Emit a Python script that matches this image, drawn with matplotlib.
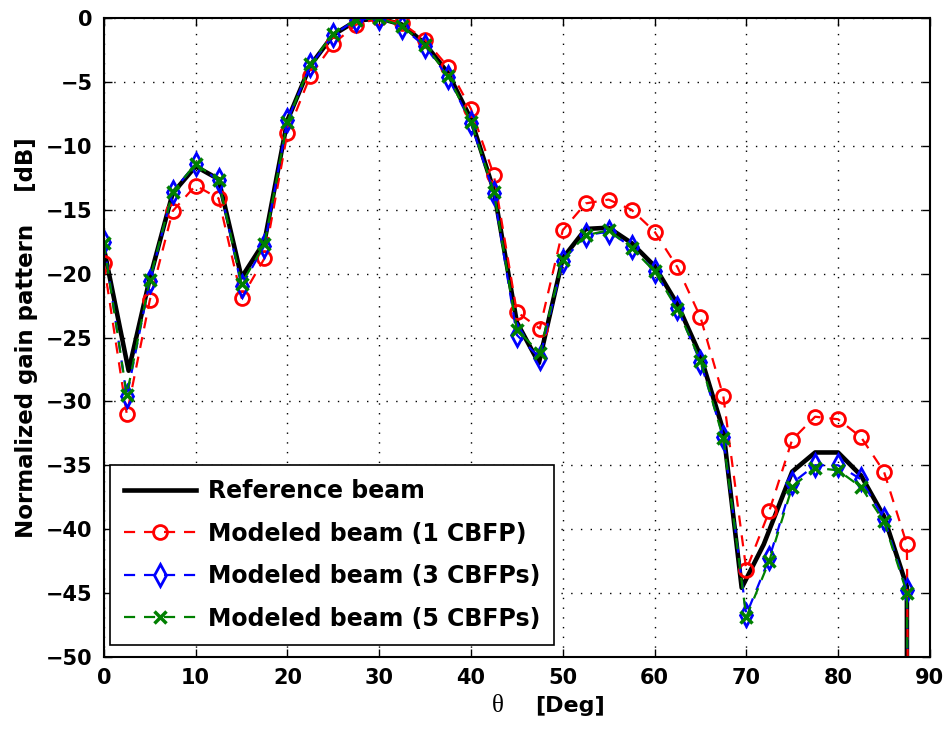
import numpy as np
import matplotlib
matplotlib.use("Agg")
import matplotlib.pyplot as plt

# Angulos de muestreo (grados)
theta = [0, 2.5, 5, 7.5, 10, 12.5, 15, 17.5, 20, 22.5, 25, 27.5, 30, 32.5, 35,
         37.5, 40, 42.5, 45, 47.5, 50, 52.5, 55, 57.5, 60, 62.5, 65, 67.5, 70,
         72.5, 75, 77.5, 80, 82.5, 85, 87.5, 90]

# Haz de referencia (muestreo propio)
theta_ref = [0, 2.7, 5, 7.5, 10, 12.5, 15, 17.5, 20, 22.5, 25, 27.5, 30, 32.5,
             35, 37.5, 40, 42.5, 45, 47.4, 50, 52.5, 55, 57.5, 60, 62.5, 65,
             67.5, 69.5, 71.9, 75, 77.5, 80, 82.5, 85, 87.5, 87.6]
gain_ref = [-18.0, -27.6, -20.4, -13.7, -11.6, -12.6, -20.3, -17.5, -8.0, -3.7,
            -1.3, -0.2, 0.0, -0.5, -2.0, -4.3, -7.9, -13.5, -23.8, -27.0, -18.8,
            -16.5, -16.4, -17.6, -19.4, -22.4, -26.4, -32.3, -44.6, -41.2, -35.5,
            -34.0, -34.0, -35.8, -39.0, -44.5, -300.0]

# Haces modelados
gain_1 = [-19.2, -31.0, -22.1, -15.1, -13.1, -14.1, -21.9, -18.8, -9.0, -4.5,
          -2.0, -0.5, 0.0, -0.4, -1.7, -3.8, -7.1, -12.3, -23.0, -24.3, -16.6,
          -14.5, -14.2, -15.0, -16.7, -19.5, -23.4, -29.6, -43.2, -38.6, -33.0,
          -31.2, -31.4, -32.8, -35.5, -41.2, -300.0]
gain_3 = [-17.5, -29.6, -20.6, -13.6, -11.4, -12.7, -21.0, -17.8, -8.0, -3.7,
          -1.3, -0.1, 0.0, -0.7, -2.2, -4.6, -8.2, -13.7, -24.8, -26.6, -19.0,
          -17.0, -16.7, -17.9, -19.8, -22.7, -26.9, -32.8, -46.7, -42.3, -36.4,
          -35.0, -35.0, -36.1, -39.2, -44.8, -300.0]
gain_5 = [-17.6, -29.5, -20.5, -13.6, -11.4, -12.7, -20.8, -17.7, -8.1, -3.6,
          -1.2, -0.1, 0.0, -0.6, -2.1, -4.5, -8.1, -13.6, -24.4, -26.2, -18.9,
          -17.0, -16.6, -18.0, -19.8, -22.8, -26.8, -32.9, -46.9, -42.5, -36.7,
          -35.2, -35.4, -36.7, -39.4, -45.0, -300.0]

plt.rcParams["font.family"] = ["DejaVu Sans"]
plt.rcParams["font.weight"] = "bold"

fig = plt.figure(figsize=(9.44, 7.29), dpi=100)
ax = fig.add_axes([0.110, 0.099, 0.875, 0.876])

dash = (0, (5, 4))
ax.plot(theta_ref, gain_ref, color="black", linewidth=3.3, label="Reference beam")
ax.plot(theta, gain_1, color="red", linestyle=dash, linewidth=1.6, marker="o",
        markersize=10, markerfacecolor="none", markeredgewidth=2,
        label="Modeled beam (1 CBFP)")
ax.plot(theta, gain_3, color="blue", linestyle=dash, linewidth=1.6, marker="d",
        markersize=11, markerfacecolor="none", markeredgewidth=2,
        label="Modeled beam (3 CBFPs)")
ax.plot(theta, gain_5, color="green", linestyle=dash, linewidth=1.6, marker="x",
        markersize=8, markeredgewidth=2.5, label="Modeled beam (5 CBFPs)")

ax.set_xlim(0, 90)
ax.set_ylim(-50, 0)
ax.set_xticks(np.arange(0, 91, 10))
ax.set_yticks(np.arange(-50, 1, 5))
ax.grid(True, linestyle=(0, (1, 6)), color="black", linewidth=1.0)
ax.tick_params(direction="in", top=True, right=True, length=6, width=1,
               labelsize=15, pad=8)
for lbl in ax.get_xticklabels() + ax.get_yticklabels():
    lbl.set_fontweight("bold")
for s in ax.spines.values():
    s.set_linewidth(1.5)

# Etiquetas de ejes (theta en serif como en el original)
fig.text(0.527, 0.023, "θ", family="Liberation Serif", fontweight="normal",
         fontsize=18, ha="center", va="baseline")
fig.text(0.604, 0.023, "[Deg]", fontsize=16, fontweight="bold",
         ha="center", va="baseline")
ax.set_ylabel("Normalized gain pattern    [dB]", fontsize=16.5, fontweight="bold",
              labelpad=6)

leg = ax.legend(loc="lower left", bbox_to_anchor=(0.007, 0.019),
                borderaxespad=0, fontsize=17, handlelength=3.05,
                handletextpad=0.5, fancybox=False, edgecolor="black",
                framealpha=1, borderpad=0.6, labelspacing=0.78)
leg.get_frame().set_linewidth(1.2)
for t in leg.get_texts():
    t.set_fontweight("bold")

fig.savefig("out.png", dpi=100)
